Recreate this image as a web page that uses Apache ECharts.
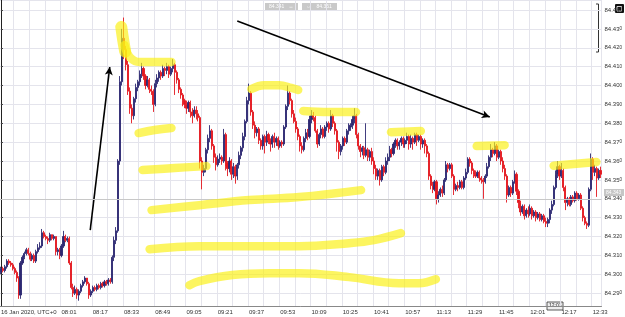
<!DOCTYPE html>
<html>
<head>
<meta charset="utf-8">
<script src="https://cdn.jsdelivr.net/npm/echarts@6/dist/echarts.min.js"></script>
<style>
html, body { margin: 0; padding: 0; background: #fff; }
#chart { width: 625px; height: 317px; }
</style>
</head>
<body>
<div id="chart"></div>
<script>
// USDJPY-style 1 minute candles, values in 0.001 above 84.000
var BASE = 84;
var firstMinute = 7 * 60 + 30; // 07:30 UTC

var opens = [
  301,303,302,304,307,306,305,303,301,298, 289,306,309,311,313,311,308,310,307,312,
  314,315,322,320,319,318,321,319,320,312, 313,310,315,320,318,319,306,293,290,292,
  289,291,294,296,298,295,289,291,293,292, 294,293,295,294,296,295,297,296,309,318,
  323,360,402,425,419,411,397,388,384,393, 399,402,406,409,405,400,403,398,397,390,
  401,404,407,405,409,408,410,406,409,411, 407,403,398,395,392,390,388,391,386,384,
  387,385,383,360,354,356,366,372,376,368, 362,358,361,362,360,374,359,356,360,353,
  357,352,358,363,367,373,381,392,396,386, 379,375,377,371,368,373,370,374,371,369,
  373,370,372,368,370,369,378,389,396,392, 385,381,377,373,368,366,372,375,373,382,
  384,383,376,369,374,377,373,378,380,377, 384,380,376,370,365,368,372,370,376,378,
  379,382,384,374,368,365,367,363,366,362, 365,360,356,352,355,350,357,354,360,362,
  366,364,369,371,368,370,372,369,371,373, 369,372,370,374,371,373,369,371,368,364,
  352,347,345,349,340,342,345,343,350,358, 356,358,352,345,347,346,349,346,351,354,
  361,359,355,353,352,354,351,350,349,352, 357,362,366,364,368,362,365,360,356,352,
  342,346,343,349,353,344,338,333,336,331, 334,332,335,331,333,330,332,329,331,328,
  327,329,334,337,346,353,357,352,355,346, 338,340,337,341,339,343,340,342,335,330,
  327,326,345,361,354,356,351,355
];
var closes = [
  303,302,304,307,306,305,303,301,298,289, 306,309,311,313,311,308,310,307,312,314,
  315,322,320,319,318,321,319,320,312,313, 310,315,320,318,319,306,293,290,292,289,
  291,294,296,298,295,289,291,293,292,294, 293,295,294,296,295,297,296,309,318,323,
  360,402,425,419,411,397,388,384,393,399, 402,406,409,405,400,403,398,397,390,401,
  404,407,405,409,408,410,406,409,411,407, 403,398,395,392,390,388,391,386,384,387,
  385,383,360,354,356,366,372,376,368,362, 358,361,362,360,374,357,356,360,353,357,
  352,358,363,367,373,381,392,396,386,379, 375,377,371,368,373,370,374,371,369,373,
  370,372,368,370,369,378,389,396,392,385, 381,377,373,368,366,372,375,373,382,384,
  383,376,369,374,377,373,378,380,377,384, 380,376,370,365,368,372,370,376,378,379,
  382,384,374,368,365,367,363,366,362,365, 360,356,352,355,350,357,354,360,362,366,
  364,369,371,368,370,372,369,371,373,369, 372,370,374,371,373,369,371,368,364,352,
  347,345,349,340,342,345,343,350,358,356, 358,352,345,347,346,349,346,351,354,361,
  359,355,353,352,354,351,350,349,352,357, 362,366,364,368,362,365,360,356,352,342,
  346,343,349,353,344,338,333,336,331,334, 332,335,331,333,330,332,329,331,328,327,
  329,334,337,346,353,357,352,355,346,338, 340,337,341,339,343,340,342,335,330,327,
  326,345,361,354,356,351,355,353
];
var lows = [
  300,301,301,303,305,304,302,300,296,287, 287,305,308,310,310,307,307,306,306,311,
  313,314,319,318,316,317,318,318,310,310, 308,309,314,317,317,305,292,288,289,287,
  286,290,293,295,294,287,288,290,291,291, 292,292,293,293,294,294,295,295,307,316,
  322,358,400,414,408,395,385,380,382,391, 397,400,404,403,398,399,396,395,386,389,
  399,402,403,404,405,406,404,405,407,395, 401,396,393,389,388,385,386,383,380,383,
  382,381,356,345,352,354,364,370,366,359, 355,357,359,358,359,355,352,354,350,351,
  348,350,356,361,365,371,380,390,384,377, 372,373,369,366,366,364,368,369,365,367,
  367,368,366,367,367,368,377,387,390,383, 380,375,371,365,364,365,370,371,372,380,
  381,375,367,368,372,372,372,376,375,376, 378,374,365,361,363,366,368,369,374,376,
  377,380,372,366,362,363,361,362,360,360, 358,353,350,350,347,349,352,353,358,360,
  362,363,367,366,366,368,367,367,369,366, 367,366,369,368,370,366,367,364,362,350,
  345,343,344,337,338,341,341,342,349,354, 355,351,342,344,344,345,345,345,350,353,
  357,353,351,351,351,349,348,340,348,351, 356,360,362,363,360,361,358,354,350,338,
  341,341,342,348,342,335,331,332,329,330, 330,331,329,330,328,329,328,328,327,325,
  325,327,332,336,345,351,350,351,344,334, 336,336,336,338,338,339,339,334,328,326,
  324,325,344,350,352,341,350,351
];
var highs = [
  304,304,305,308,308,307,306,304,302,299, 307,310,312,314,314,312,311,311,313,316,
  317,324,323,321,320,322,321,321,320,314, 314,316,323,321,320,320,307,295,294,293,
  292,295,297,299,298,296,292,294,294,295, 295,296,296,297,297,298,298,310,320,325,
  361,405,430,436,421,413,399,390,394,401, 403,408,412,410,406,405,404,400,398,403,
  406,408,408,411,410,412,411,410,414,412, 408,404,399,396,393,392,392,392,388,389,
  389,387,384,362,358,367,374,379,377,369, 364,363,364,363,377,375,360,362,361,359,
  358,359,365,368,375,382,394,401,397,387, 381,378,378,372,374,374,376,375,372,374,
  375,373,373,371,371,379,390,400,397,393, 387,383,378,374,370,373,377,377,384,387,
  386,384,377,375,379,378,379,381,381,387, 385,381,377,371,369,373,373,377,380,380,
  384,388,385,375,369,368,368,380,367,366, 367,362,358,356,356,358,358,362,364,368,
  367,370,372,372,371,373,373,372,375,374, 374,373,375,375,374,374,372,372,369,365,
  353,349,350,350,344,346,347,351,360,359, 359,359,353,348,349,350,350,352,356,362,
  362,360,356,355,355,355,352,351,353,359, 363,369,367,370,369,366,366,362,358,353,
  347,347,350,355,354,345,339,337,337,335, 336,337,336,334,334,333,333,332,332,330,
  330,335,339,347,355,360,358,359,356,347, 341,341,342,342,344,344,343,343,336,331,
  328,346,364,362,358,357,356,357
];

// hand-drawn marks, [minute index, value]
var arrowUp = [[45.7, 323.4], [55.7, 409.8]];
var arrowDown = [[121.0, 434.2], [250.3, 383.3]];
var hlSpikeTop = [[61.6, 431.0], [62.6, 424.0], [63.6, 418.0]];
var hlSpike = [[63.2, 421.4], [65.9, 415.1], [71.0, 412.4], [78.7, 412.4], [87.3, 412.4]];
var hlA = [[70.5, 374.8], [78.7, 376.4], [87.3, 377.5]];
var hlB = [[72.5, 355.2], [88.9, 356.3], [105.2, 357.3]];
var hlC = [[77.1, 334.0], [101.6, 336.6], [127.2, 339.3], [152.7, 340.9], [184.4, 344.6]];
var hlD = [[76.1, 313.3], [101.6, 314.9], [152.7, 314.9], [178.3, 316.5], [191.0, 318.1], [204.8, 321.8]];
var hlE = [[96.5, 294.2], [101.6, 296.4], [118.5, 299.6], [137.4, 300.6], [152.7, 300.6], [178.3, 298.5], [203.8, 295.3], [214.0, 295.3], [222.7, 297.4]];
var hlF = [[128.2, 398.1], [134.8, 400.2], [142.5, 400.2], [148.6, 398.7], [152.2, 397.6]];
var hlG = [[154.8, 386.5], [168.0, 386.0], [181.8, 386.0]];
var hlH = [[199.7, 375.3], [215.0, 375.9]];
var hlI = [[243.6, 367.9], [257.9, 368.4]];
var hlJ = [[283.0, 357.5], [304.9, 359.5]];
var highlights = [hlSpike, hlA, hlB, hlC, hlD, hlE, hlF, hlG, hlH, hlI, hlJ];

function px(v) { return +(BASE + v / 1000).toFixed(4); }
function pad(n) { return (n < 10 ? '0' : '') + n; }

var times = [];
for (var i = 0; i < closes.length; i++) {
  var m = firstMinute + i;
  times.push(pad(Math.floor(m / 60)) + ':' + pad(m % 60));
}
var candles = closes.map(function (c, i) {
  return [px(opens[i]), px(c), px(lows[i]), px(highs[i])];
});
var firstLabel = 31; // 08:01
var hlColor = 'rgba(250,240,20,0.68)';

var chart = echarts.init(document.getElementById('chart'));

var series = [{
  type: 'candlestick',
  data: candles,
  barWidth: 1.6,
  itemStyle: {
    color: '#2d2872', borderColor: '#2d2872',
    color0: '#e3171f', borderColor0: '#e3171f',
    borderWidth: 0.9
  }
}];
function strokeSeries(h, w) {
  return {
    type: 'line', xAxisIndex: 1, silent: true, smooth: 0.4,
    symbol: 'none', z: 5,
    data: h.map(function (p) { return [p[0], px(p[1])]; }),
    lineStyle: { color: hlColor, width: w, cap: 'round', join: 'round' }
  };
}
highlights.forEach(function (h) { series.push(strokeSeries(h, 8.5)); });
series.push(strokeSeries(hlSpikeTop, 12));
series.push({
  type: 'line', xAxisIndex: 1, silent: true, symbol: 'none', data: [],
  markLine: {
    silent: true, symbol: ['none', 'arrow'], symbolSize: [6, 8],
    label: { show: false },
    lineStyle: { color: '#000', width: 1.6, type: 'solid' },
    data: [
      [{ coord: [arrowUp[0][0], px(arrowUp[0][1])] }, { coord: [arrowUp[1][0], px(arrowUp[1][1])] }],
      [{ coord: [arrowDown[0][0], px(arrowDown[0][1])] }, { coord: [arrowDown[1][0], px(arrowDown[1][1])] }]
    ]
  }
});
series.push({
  type: 'line', silent: true, symbol: 'none', data: [],
  markLine: {
    silent: true, symbol: 'none', label: { show: false },
    lineStyle: { color: '#c8c8c8', width: 1, type: 'solid' },
    data: [{ yAxis: 84.3435 }]
  }
});

var smallFont = { fontSize: 6, color: '#333', fontFamily: 'Liberation Sans, Arial, sans-serif' };

option = {
  animation: false,
  backgroundColor: '#fff',
  grid: { left: 0, right: 22, top: 0, bottom: 11 },
  xAxis: [{
    type: 'category',
    data: times,
    boundaryGap: true,
    axisLine: { lineStyle: { color: '#888' } },
    axisTick: {
      alignWithLabel: true, length: 2, lineStyle: { color: '#666' },
      interval: function (idx) { return idx >= firstLabel && (idx - firstLabel) % 16 === 0; }
    },
    axisLabel: Object.assign({
      align: 'left', margin: 3,
      interval: function (idx) { return idx >= firstLabel && (idx - firstLabel) % 16 === 0; }
    }, smallFont),
    splitLine: {
      show: true, lineStyle: { color: '#e4e4ec' },
      interval: function (idx) { return (idx - firstLabel) % 8 === 0; }
    }
  }, {
    type: 'value', min: -0.5, max: 307.5, show: false
  }],
  yAxis: {
    type: 'value',
    position: 'right',
    min: 84.2832,
    max: 84.4453,
    splitNumber: 16,
    scale: true,
    axisLine: { show: true, lineStyle: { color: '#222' } },
    axisTick: { show: true, length: 2, lineStyle: { color: '#444' } },
    splitLine: { lineStyle: { color: '#e4e4ec' } },
    axisLabel: {
      showMinLabel: false, showMaxLabel: false, margin: 3,
      formatter: function (v) {
        var s = v.toFixed(3);
        return '{a|' + s.slice(0, -1) + '}{b|' + s.slice(-1) + '}';
      },
      rich: {
        a: smallFont,
        b: { fontSize: 4.5, color: '#333', fontFamily: 'Liberation Sans, Arial, sans-serif' }
      }
    }
  },
  graphic: [
    { type: 'text', left: 1, top: 309, style: { text: '16 Jan 2020, UTC+0', fill: '#333', font: '6px Liberation Sans, Arial, sans-serif' } },
    { type: 'rect', shape: { x: 265, y: 3, width: 33, height: 8 }, style: { fill: '#c9c9c9' } },
    { type: 'text', x: 269, y: 4, style: { text: '84.341   \u2194', fill: '#fff', font: '5px Liberation Sans, Arial, sans-serif' } },
    { type: 'rect', shape: { x: 302, y: 3, width: 35, height: 8 }, style: { fill: '#c9c9c9' } },
    { type: 'text', x: 306, y: 4, style: { text: '\u21d4    84.361', fill: '#fff', font: '5px Liberation Sans, Arial, sans-serif' } },
    { type: 'polyline', shape: { points: [[596, 4], [598.5, 4], [598.5, 52], [596, 52]] }, style: { stroke: '#333', lineWidth: 1, fill: null } },
    { type: 'text', x: 592, y: 37, rotation: Math.PI / 2, originX: 592, originY: 37, style: { text: '2.5 pips', fill: '#333', font: '5px Liberation Sans, Arial, sans-serif' } },
    { type: 'rect', shape: { x: 615, y: 4, width: 9, height: 9, r: 1 }, style: { fill: '#111' } },
    { type: 'rect', shape: { x: 617, y: 6.5, width: 4.5, height: 4.5 }, style: { fill: null, stroke: '#fff', lineWidth: 0.8 } },
    { type: 'rect', shape: { x: 604, y: 189, width: 20, height: 7 }, style: { fill: '#c6c6c6' } },
    { type: 'text', x: 606, y: 190, style: { text: '84.343', fill: '#fff', font: '5px Liberation Sans, Arial, sans-serif' } },
    { type: 'rect', shape: { x: 547, y: 302, width: 16, height: 8 }, style: { fill: '#eee', stroke: '#333', lineWidth: 0.8 } },
    { type: 'text', x: 549, y: 303.5, style: { text: '12:03', fill: '#222', font: '5px Liberation Sans, Arial, sans-serif' } }
  ],
  series: series
};

chart.setOption(option);
</script>
</body>
</html>
